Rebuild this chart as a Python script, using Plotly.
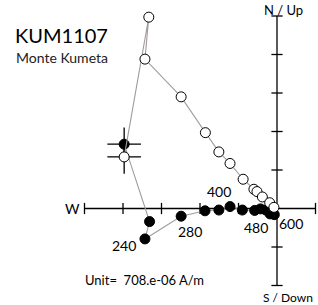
import plotly.graph_objects as go

# Vertical projection (open circles): x = E(+)/W(-), y = Up
open_x = [-3.97, -3.33, -3.43, -2.49, -1.86, -1.51, -1.22, -0.88, -0.60, -0.52, -0.38, -0.19, -0.08]
open_y = [1.34, 4.97, 3.88, 2.90, 1.97, 1.47, 1.17, 0.76, 0.50, 0.44, 0.30, 0.15, 0.03]
# Horizontal projection (filled circles): x = E(+)/W(-), y = N
fill_x = [-3.97, -3.31, -3.43, -2.49, -1.87, -1.51, -1.22, -0.90, -0.58, -0.43, -0.29, -0.18, -0.07]
fill_y = [1.67, -0.34, -0.79, -0.20, -0.06, -0.04, 0.05, -0.04, -0.05, -0.01, -0.04, -0.14, -0.16]
# step labels (index into filled series)
step_idx = [2, 3, 6, 8, 12]
step_lab = ["240", "280", "400", "480", "600"]

x_ticks = [-5, -4, -3, -2, -1, 1]
y_ticks = [-2, -1, 1, 2, 3, 4, 5]
x_min, x_max = -5, 1
y_min, y_max = -2, 5

FONT = "Lato"
NARROW = "Liberation Sans Narrow, Lato"
LINE_C = "#a39b9b"

fig = go.Figure()
# axes
fig.add_trace(go.Scatter(x=[x_min, x_max], y=[0, 0], mode="lines",
                         line=dict(color="black", width=1.3), hoverinfo="skip"))
fig.add_trace(go.Scatter(x=[0, 0], y=[y_min, y_max], mode="lines",
                         line=dict(color="black", width=1.3), hoverinfo="skip"))
fig.add_trace(go.Scatter(x=x_ticks, y=[0]*len(x_ticks), mode="markers",
                         marker=dict(symbol="line-ns", size=8, line=dict(color="black", width=1.3)),
                         hoverinfo="skip"))
fig.add_trace(go.Scatter(x=[0]*len(y_ticks), y=y_ticks, mode="markers",
                         marker=dict(symbol="line-ew", size=8, line=dict(color="black", width=1.3)),
                         hoverinfo="skip"))
# NRM crosses
fig.add_trace(go.Scatter(x=[fill_x[0], open_x[0]], y=[fill_y[0], open_y[0]], mode="markers",
                         marker=dict(symbol="cross-thin", size=24, line=dict(color="black", width=1.3)),
                         hoverinfo="skip"))
# filled series
fig.add_trace(go.Scatter(x=fill_x, y=fill_y, mode="lines+markers",
                         line=dict(color=LINE_C, width=1.1),
                         marker=dict(size=10, color="black", line=dict(color="black", width=1))))
# open series
fig.add_trace(go.Scatter(x=open_x, y=open_y, mode="lines+markers",
                         line=dict(color=LINE_C, width=1.1),
                         marker=dict(size=10, color="white", line=dict(color="black", width=1))))

lab_shift = {"240": (-21, -7), "280": (9, -15), "400": (-11, 15), "480": (1, -17), "600": (17, -9)}
for i, t in zip(step_idx, step_lab):
    dx, dy = lab_shift[t]
    fig.add_annotation(x=fill_x[i], y=fill_y[i], text=t, showarrow=False,
                       xanchor="center", yanchor="middle",
                       xshift=dx, yshift=dy, font=dict(family=FONT, size=14, color="black"))

W, H = 318, 305
def px(x):
    return x / W
def py(y):
    return 1 - y / H

def txt(x, y, t, size, color="black", family=FONT):
    fig.add_annotation(xref="paper", yref="paper", x=px(x), y=py(y), text=t, showarrow=False,
                       xanchor="center", yanchor="middle", borderpad=0,
                       font=dict(family=family, size=size, color=color))

txt(61, 35, "KUM1107", 20)
txt(62, 57, "Monte Kumeta", 14, "#222222")
txt(144, 280, "Unit=  708.e-06 A/m", 13)
txt(283, 10, "N / Up", 13, family=NARROW)
txt(287.5, 297, "S / Down", 12, family=NARROW)
txt(72.5, 208, "W", 14)

ox, oy, s = 277, 208.5, 38.5
fig.update_layout(
    width=W, height=H, margin=dict(l=0, r=0, t=0, b=0),
    paper_bgcolor="white", plot_bgcolor="white", showlegend=False,
    xaxis=dict(range=[-ox / s, (W - ox) / s], visible=False, fixedrange=True),
    yaxis=dict(range=[(oy - H) / s, oy / s], visible=False, fixedrange=True),
)
fig.write_html("out.html", config={"displayModeBar": False},
               post_script="document.body.style.margin='0';document.body.style.overflow='hidden';")
